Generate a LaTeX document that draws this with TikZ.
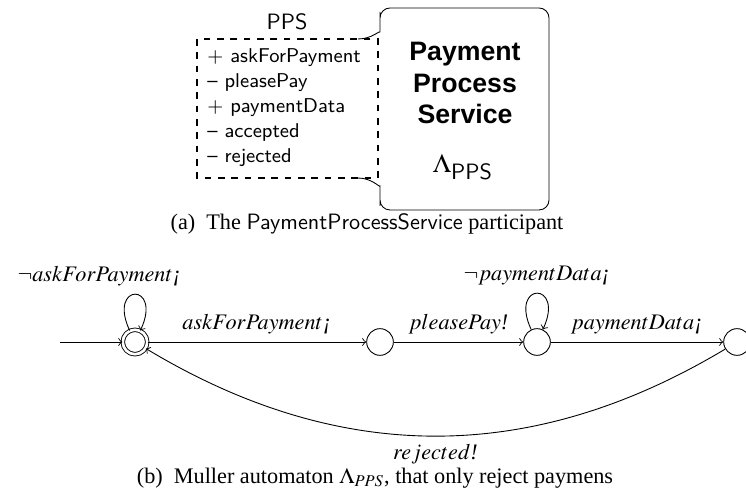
\documentclass[tikz,border=0pt]{standalone}
\usepackage{mathptmx}
\usepackage{fontspec}
\setmainfont{Liberation Serif}
\newfontfamily\helvfont{Liberation Sans}
\begin{document}
\begin{tikzpicture}[x=0.45pt, y=0.45pt, >=to,
    stnode/.style={circle, draw, minimum size=12pt, inner sep=0pt},
    selfloop/.style={out=115, in=65, min distance=24pt, looseness=8},
    portitem/.style={anchor=west, font=\sffamily\small, inner sep=0pt}]
    \useasboundingbox (0,0) rectangle (746,498);

    % Participant: ports
    \node[font=\sffamily] (ppsname) at (287,476) {PPS};
    \draw[thick, dashed] (197,459) rectangle (378,320);
    \foreach \i/\txt in {0/+ askForPayment, 1/\textendash\ pleasePay, 2/+ paymentData, 3/\textendash\ accepted, 4/\textendash\ rejected} {
        \node[portitem] (port\i) at (207,440-25*\i) {\txt};
    }

    % Participant: service box
    \draw[rounded corners=4.5pt] (358,459) .. controls (372,459) and (380,468) .. (380,476)
        -- (380,490) -- (549,490) -- (549,288) -- (380,288) -- (380,302)
        .. controls (380,310) and (372,320) .. (358,320);
    \node[font=\helvfont\large\bfseries, align=center] (service) at (465,415) {Payment\\Process\\Service};
    \node[font=\large] (lambda) at (463,331) {$\Lambda_{\textsf{\normalsize PPS}}$};

    \node (capa) at (367,274) {(a)\enspace The \textsf{PaymentProcessService} participant};

    % Automaton states
    \node[stnode, double, double distance=1.2pt, minimum size=11pt] (q0) at (135,156) {};
    \node[stnode] (q1) at (380,156) {};
    \node[stnode] (q2) at (537,156) {};
    \node[stnode] (q3) at (737,156) {};
    \coordinate (init) at (60,156);

    % Transitions
    \draw[->] (init) -- (q0);
    \draw[->] (q0) -- node[above] (l01) {$askForPayment$\textit{¡}} (q1);
    \draw[->] (q1) -- node[above] (l12) {$pleasePay$\textit{!}} (q2);
    \draw[->] (q2) -- node[above] (l23) {$paymentData$\textit{¡}} (q3);
    \draw[->] (q0) to[selfloop] node[above, xshift=-16pt] (l00) {$\neg askForPayment$\textit{¡}} (q0);
    \draw[->] (q2) to[selfloop] node[above] (l22) {$\neg paymentData$\textit{¡}} (q2);
    \draw[->] (q3) to[bend left=31] node[below] (l30) {$rejected$\textit{!}} (q0);

    \node (capb) at (375,20) {(b)\enspace Muller automaton $\Lambda_{PPS}$, that only reject paymens};
\end{tikzpicture}
\end{document}
